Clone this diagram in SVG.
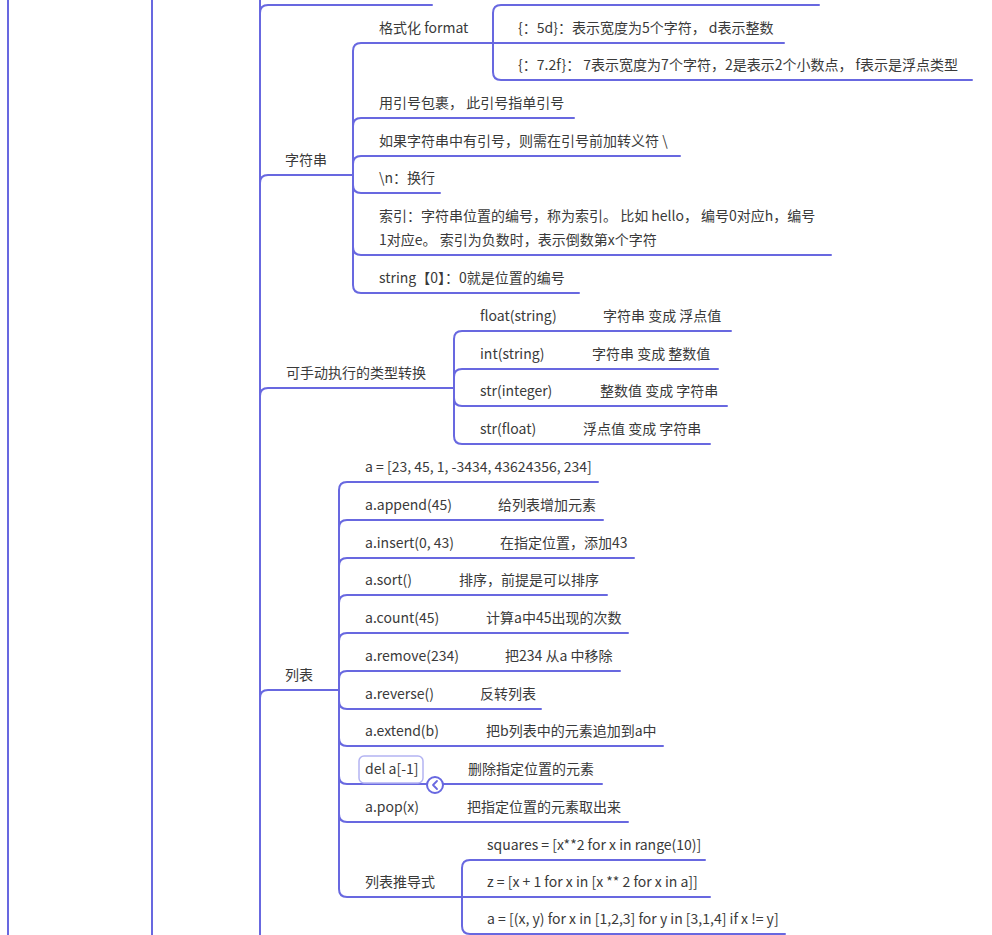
<svg xmlns="http://www.w3.org/2000/svg" width="992" height="935" viewBox="0 0 992 935">
<style>
.c{fill:none;stroke:#6868e0;stroke-width:2;stroke-linecap:round}
text{font-family:"Noto Sans CJK SC","Noto Sans",sans-serif;font-size:14px;fill:#3a3a3a}
.sel{fill:#fff;stroke:#b4b4f2;stroke-width:1.5}
</style>
<rect width="992" height="935" fill="#fff"/>
<g id="connectors">
<path class="c" d="M8 0V935M152 0V935M260 0V935"/>
<path class="c" d="M260 13Q260 5 268 5H432"/>
<path class="c" d="M260 183Q260 175 268 175H353"/>
<path class="c" d="M260 396Q260 388 268 388H454"/>
<path class="c" d="M260 698Q260 690 268 690H339"/>
<path class="c" d="M353 175V51Q353 43 361 43H493"/>
<path class="c" d="M353 175V126Q353 118 361 118H574"/>
<path class="c" d="M353 175V164Q353 156 361 156H680"/>
<path class="c" d="M353 175V185Q353 193 361 193H440"/>
<path class="c" d="M353 175V247Q353 255 361 255H831"/>
<path class="c" d="M353 175V285Q353 293 361 293H579"/>
<path class="c" d="M493 43V13Q493 5 501 5H819"/>
<path class="c" d="M493 43H784"/>
<path class="c" d="M493 43V72Q493 80 501 80H972"/>
<path class="c" d="M454 388V339Q454 331 462 331H731"/>
<path class="c" d="M454 388V377Q454 369 462 369H718"/>
<path class="c" d="M454 388V398Q454 406 462 406H727"/>
<path class="c" d="M454 388V436Q454 444 462 444H710"/>
<path class="c" d="M339 690V490Q339 482 347 482H598"/>
<path class="c" d="M339 690V528Q339 520 347 520H603"/>
<path class="c" d="M339 690V566Q339 558 347 558H634"/>
<path class="c" d="M339 690V603Q339 595 347 595H607"/>
<path class="c" d="M339 690V641Q339 633 347 633H628"/>
<path class="c" d="M339 690V679Q339 671 347 671H620"/>
<path class="c" d="M339 690V701Q339 709 347 709H541"/>
<path class="c" d="M339 690V738Q339 746 347 746H663"/>
<path class="c" d="M339 690V776Q339 784 347 784H602"/>
<path class="c" d="M339 690V814Q339 822 347 822H628"/>
<path class="c" d="M339 690V889Q339 897 347 897H462"/>
<path class="c" d="M462 897V868Q462 860 470 860H705"/>
<path class="c" d="M462 897H710"/>
<path class="c" d="M462 897V926Q462 934 470 934H785"/>
</g>
<g id="n-string"><text x="285" y="165">字符串</text></g>
<g id="n-format"><text x="379" y="33">格式化 format</text></g>
<g id="n-5d"><text x="518" y="33">{：5d}：表示宽度为5个字符， d表示整数</text></g>
<g id="n-72f"><text x="518" y="70">{：7.2f}： 7表示宽度为7个字符，2是表示2个小数点， f表示是浮点类型</text></g>
<g id="n-quote"><text x="379" y="108">用引号包裹， 此引号指单引号</text></g>
<g id="n-escape"><text x="379" y="146">如果字符串中有引号，则需在引号前加转义符 \</text></g>
<g id="n-newline"><text x="379" y="183">\n：换行</text></g>
<g id="n-index"><text x="379" y="221">索引：字符串位置的编号，称为索引。 比如 hello， 编号0对应h，编号</text><text x="379" y="245">1对应e。 索引为负数时，表示倒数第x个字符</text></g>
<g id="n-string0"><text x="379" y="283">string【0】：0就是位置的编号</text></g>
<g id="n-conv"><text x="286" y="378">可手动执行的类型转换</text></g>
<g id="n-float"><text x="480" y="321">float(string)</text><text x="603" y="321">字符串 变成 浮点值</text></g>
<g id="n-int"><text x="480" y="359">int(string)</text><text x="592" y="359">字符串 变成 整数值</text></g>
<g id="n-strint"><text x="480" y="396">str(integer)</text><text x="600" y="396">整数值 变成 字符串</text></g>
<g id="n-strfloat"><text x="480" y="434">str(float)</text><text x="583" y="434">浮点值 变成 字符串</text></g>
<g id="n-list"><text x="285" y="680">列表</text></g>
<g id="n-a"><text x="365" y="472">a = [23, 45, 1, -3434, 43624356, 234]</text></g>
<g id="n-append"><text x="365" y="510">a.append(45)</text><text x="498" y="510">给列表增加元素</text></g>
<g id="n-insert"><text x="365" y="548">a.insert(0, 43)</text><text x="500" y="548">在指定位置，添加43</text></g>
<g id="n-sort"><text x="365" y="585">a.sort()</text><text x="459" y="585">排序，前提是可以排序</text></g>
<g id="n-count"><text x="365" y="623">a.count(45)</text><text x="486" y="623">计算a中45出现的次数</text></g>
<g id="n-remove"><text x="365" y="661">a.remove(234)</text><text x="505" y="661">把234 从a 中移除</text></g>
<g id="n-reverse"><text x="365" y="699">a.reverse()</text><text x="480" y="699">反转列表</text></g>
<g id="n-extend"><text x="365" y="736">a.extend(b)</text><text x="486" y="736">把b列表中的元素追加到a中</text></g>
<g id="n-del"><rect class="sel" x="359" y="756" width="64" height="27" rx="5"/><text x="365" y="774">del a[-1]</text><text x="468" y="774">删除指定位置的元素</text><circle cx="435" cy="785" r="8" fill="#fff" stroke="#6868e0" stroke-width="2"/><path d="M437 781L433 785L437 789" fill="none" stroke="#6868e0" stroke-width="1.8" stroke-linecap="round" stroke-linejoin="round"/></g>
<g id="n-pop"><text x="365" y="812">a.pop(x)</text><text x="467" y="812">把指定位置的元素取出来</text></g>
<g id="n-comp"><text x="365" y="887">列表推导式</text></g>
<g id="n-squares"><text x="487" y="850">squares = [x**2 for x in range(10)]</text></g>
<g id="n-z"><text x="487" y="887">z = [x + 1 for x in [x ** 2 for x in a]]</text></g>
<g id="n-a2"><text x="487" y="924">a = [(x, y) for x in [1,2,3] for y in [3,1,4] if x != y]</text></g>
</svg>
